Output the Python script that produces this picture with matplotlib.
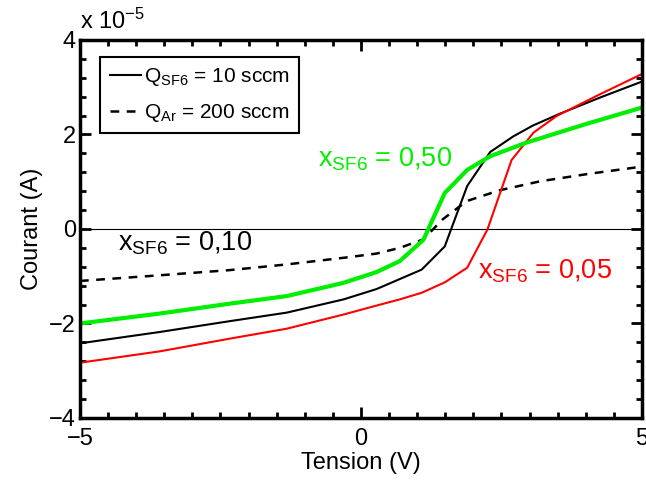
import numpy as np
import matplotlib.pyplot as plt
from matplotlib.ticker import MultipleLocator, FixedLocator

plt.rcParams['font.family'] = ['Liberation Sans', 'DejaVu Sans']
plt.rcParams['mathtext.fontset'] = 'custom'
plt.rcParams['mathtext.rm'] = 'Liberation Sans'
plt.rcParams['mathtext.it'] = 'Liberation Sans'

# Données (courant en unités de 1e-5 A)
v_050 = [-5, -3.58, -2.33, -1.32, -0.31, 0.28, 0.69, 1.11, 1.49, 1.89, 2.30, 2.95, 4.0, 5.0]
i_050 = [-2.00, -1.79, -1.58, -1.42, -1.14, -0.91, -0.68, -0.23, 0.76, 1.25, 1.54, 1.83, 2.22, 2.57]

v_010 = [-5, -3.58, -2.33, -1.32, -0.31, 0.28, 0.69, 1.08, 1.49, 1.89, 2.30, 2.71, 3.06, 3.54, 4.25, 5.0]
i_010 = [-2.42, -2.18, -1.95, -1.77, -1.49, -1.27, -1.06, -0.86, -0.37, 0.91, 1.63, 1.96, 2.19, 2.44, 2.78, 3.12]

v_005 = [-5, -3.58, -2.33, -1.32, -0.31, 0.28, 0.69, 1.08, 1.49, 1.89, 2.25, 2.68, 3.07, 3.48, 4.25, 5.0]
i_005 = [-2.83, -2.59, -2.32, -2.11, -1.81, -1.62, -1.49, -1.35, -1.13, -0.82, -0.01, 1.46, 2.04, 2.39, 2.85, 3.28]

v_ar = [-5, -3.58, -2.33, -1.32, -0.31, 0.28, 0.69, 1.11, 1.45, 1.88, 2.47, 3.19, 4.07, 5.0]
i_ar = [-1.10, -0.98, -0.87, -0.75, -0.61, -0.52, -0.40, -0.22, 0.20, 0.59, 0.82, 1.01, 1.17, 1.32]

fig = plt.figure(figsize=(6.46, 4.84), dpi=100)
ax = fig.add_axes([0.1238, 0.1364, 0.870, 0.781])

ax.axhline(0, color='black', lw=0.8)
l1, = ax.plot(v_010, i_010, color='black', lw=1.5)
l2, = ax.plot(v_ar, i_ar, color='black', lw=1.8, ls=(0, (3.5, 3)))
ax.plot(v_005, i_005, color='#ff0000', lw=1.5)
ax.plot(v_050, i_050, color='#00ee00', lw=3)

ax.set_xlim(-5, 5)
ax.set_ylim(-4, 4)
ax.xaxis.set_major_locator(FixedLocator([-5, 0, 5]))
ax.xaxis.set_minor_locator(MultipleLocator(0.5))
ax.yaxis.set_major_locator(MultipleLocator(2))
ax.yaxis.set_minor_locator(MultipleLocator(0.4))
ax.tick_params(which='both', direction='in', top=True, right=True, width=2, labelsize=17)
ax.tick_params(which='major', length=8)
ax.tick_params(which='minor', length=4)
ax.tick_params(axis='x', which='major', pad=7)
ax.tick_params(axis='y', which='major', pad=3)
for s in ax.spines.values():
    s.set_linewidth(2.5)

ax.set_xlabel('Tension (V)', fontsize=17, labelpad=2)
ax.set_ylabel('Courant (A)', fontsize=17, labelpad=4)
ax.text(0.0, 1.015, r'x 10$^{-5}$', transform=ax.transAxes, fontsize=17, va='bottom')

ax.text(-0.77, 1.33, r'x$_{\mathrm{SF6}}$ = 0,50', color='#00ee00', fontsize=19.5)
ax.text(-4.32, -0.46, r'x$_{\mathrm{SF6}}$ = 0,10', color='black', fontsize=19.5)
ax.text(2.09, -1.05, r'x$_{\mathrm{SF6}}$ = 0,05', color='#ff0000', fontsize=19.5)

leg = ax.legend([l1, l2], [r'Q$_{\mathrm{SF6}}$ = 10 sccm', r'Q$_{\mathrm{Ar}}$ = 200 sccm'],
                loc='upper left', bbox_to_anchor=(0.036, 0.955), borderaxespad=0,
                fancybox=False, edgecolor='black', fontsize=15, handlelength=1.5,
                handletextpad=0.15, borderpad=0.45, labelspacing=0.65, framealpha=1)
leg.get_frame().set_linewidth(1.5)

plt.savefig('out.png', dpi=100)
